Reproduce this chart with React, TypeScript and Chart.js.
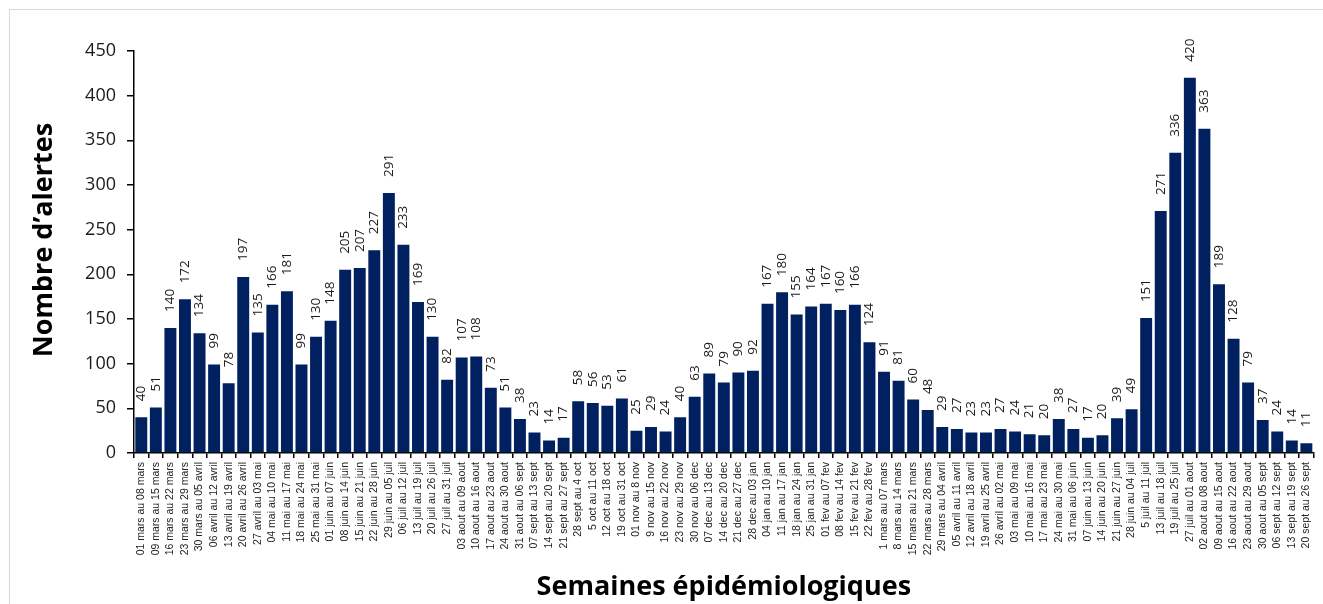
import React, { useEffect, useRef } from "react";
import { Chart, registerables } from "chart.js";

Chart.register(...registerables);

const semaines: string[] = [
  "01 mars au 08 mars", "09 mars au 15 mars", "16 mars au 22 mars", "23 mars au 29 mars",
  "30 mars au 05 avril", "06 avril au 12 avril", "13 avril au 19 avril", "20 avril au 26 avril",
  "27 avril au 03 mai", "04 mai au 10 mai", "11 mai au 17 mai", "18 mai au 24 mai",
  "25 mai au 31 mai", "01 juin au 07 juin", "08 juin au 14 juin", "15 juin au 21 juin",
  "22 juin au 28 juin", "29 juin au 05 juil", "06 juil au 12 juil", "13 juil au 19 juil",
  "20 juil au 26 juil", "27 juil au 31 juil", "03 aout au 09 aout", "10 aout au 16 aout",
  "17 aout au 23 aout", "24 aout au 30 aout", "31 aout au 06 sept", "07 sept au 13 sept",
  "14 sept au 20 sept", "21 sept au 27 sept", "28 sept au 4 oct", "5 oct au 11 oct",
  "12 oct au 18 oct", "19 oct au 31 oct", "01 nov au 8 nov", "9 nov au 15 nov",
  "16 nov au 22 nov", "23 nov au 29 nov", "30 nov au 06 dec", "07 dec au 13 dec",
  "14 dec au 20 dec", "21 dec au 27 dec", "28 dec au 03 jan", "04 jan au 10 jan",
  "11 jan au 17 jan", "18 jan au 24 jan", "25 jan au 31 jan", "01 fev au 07 fev",
  "08 fev au 14 fev", "15 fev au 21 fev", "22 fev au 28 fev", "1 mars au 07 mars",
  "8 mars au 14 mars", "15 mars au 21 mars", "22 mars au 28 mars", "29 mars au 04 avril",
  "05 avril au 11 avril", "12 avril au 18 avril", "19 avril au 25 avril", "26 avril au 02 mai",
  "03 mai au 09 mai", "10 mai au 16 mai", "17 mai au 23 mai", "24 mai au 30 mai",
  "31 mai au 06 juin", "07 juin au 13 juin", "14 juin au 20 juin", "21 juin au 27 juin",
  "28 juin au 04 juil", "5 juil au 11 juil", "13 juil au 18 juil", "19 juil au 25 juil",
  "27 juil au 01 aout", "02 aout au 08 aout", "09 aout au 15 aout", "16 aout au 22 aout",
  "23 aout au 29 aout", "30 aout au 05 sept", "06 sept au 12 sept", "13 sept au 19 sept",
  "20 sept au 26 sept",
];

const alertes: number[] = [
  40, 51, 140, 172, 134, 99, 78, 197, 135, 166, 181, 99, 130, 148, 205, 207, 227, 291, 233, 169,
  130, 82, 107, 108, 73, 51, 38, 23, 14, 17, 58, 56, 53, 61, 25, 29, 24, 40, 63, 89,
  79, 90, 92, 167, 180, 155, 164, 167, 160, 166, 124, 91, 81, 60, 48, 29, 27, 23, 23, 27,
  24, 21, 20, 38, 27, 17, 20, 39, 49, 151, 271, 336, 420, 363, 189, 128, 79, 37, 24, 14,
  11,
];

const yTitle = "Nombre d’alertes";
const xTitle = "Semaines épidémiologiques";

const frame = {
  id: "frame",
  beforeDraw(chart: any) {
    const { ctx, width, height } = chart;
    ctx.save();
    ctx.fillStyle = "#ffffff";
    ctx.fillRect(0, 0, width, height);
    ctx.strokeStyle = "#d9d9d9";
    ctx.lineWidth = 1;
    ctx.strokeRect(9.5, 9.5, width + 20, height + 20);
    ctx.restore();
  },
};

const yAxisTitle = {
  id: "yAxisTitle",
  afterDraw(chart: any) {
    const { ctx } = chart;
    ctx.save();
    ctx.font = "bold 27px 'Open Sans'";
    ctx.fillStyle = "#000";
    ctx.textAlign = "center";
    ctx.textBaseline = "middle";
    ctx.translate(44, 240);
    ctx.rotate(-Math.PI / 2);
    ctx.fillText(yTitle, 0, 0);
    ctx.restore();
  },
};

const valueLabels = {
  id: "valueLabels",
  afterDatasetsDraw(chart: any) {
    const { ctx } = chart;
    const meta = chart.getDatasetMeta(0);
    const data = chart.data.datasets[0].data;
    ctx.save();
    ctx.font = "13.5px 'Open Sans'";
    ctx.fillStyle = "#1a1a1a";
    ctx.textAlign = "left";
    ctx.textBaseline = "middle";
    meta.data.forEach((bar: any, i: number) => {
      ctx.save();
      ctx.translate(bar.x, bar.y - 16);
      ctx.rotate(-Math.PI / 2);
      ctx.fillText(String(data[i]), 0, 0);
      ctx.restore();
    });
    ctx.restore();
  },
};

export default function App() {
  const ref = useRef<HTMLCanvasElement | null>(null);

  useEffect(() => {
    if (!ref.current) return;
    const chart = new Chart(ref.current, {
      type: "bar",
      data: {
        labels: semaines,
        datasets: [
          {
            data: alertes,
            backgroundColor: "#002060",
            borderWidth: 0,
            barPercentage: 0.82,
            categoryPercentage: 1,
          },
        ],
      },
      options: {
        animation: false,
        responsive: false,
        maintainAspectRatio: false,
        layout: { padding: { top: 51, right: 6, left: 0, bottom: 0 } },
        plugins: { legend: { display: false }, tooltip: { enabled: false } },
        scales: {
          x: {
            afterFit: (s: any) => {
              s.height = 151;
            },
            grid: {
              display: true,
              drawOnChartArea: false,
              drawTicks: true,
              tickLength: 5,
              color: "#000",
              lineWidth: 1.5,
              offset: true,
            },
            border: { display: true, color: "#000", width: 1.5 },
            ticks: {
              autoSkip: false,
              minRotation: 90,
              maxRotation: 90,
              padding: 4,
              color: "#222",
              font: { family: "'Liberation Sans', Arial, sans-serif", size: 10.5 },
            },
            title: {
              display: true,
              text: xTitle,
              color: "#000",
              font: { family: "'Open Sans'", size: 27, weight: "bold" },
              padding: { top: 0, bottom: 0 },
            },
          },
          y: {
            min: 0,
            max: 450,
            afterFit: (s: any) => {
              s.width = 134;
            },
            grid: {
              display: true,
              drawOnChartArea: false,
              drawTicks: true,
              tickLength: 7,
              color: "#000",
              lineWidth: 1.5,
            },
            border: { display: true, color: "#000", width: 1.5 },
            ticks: {
              stepSize: 50,
              padding: 11,
              color: "#1a1a1a",
              font: { family: "'Open Sans'", size: 18 },
            },
          },
        },
      },
      plugins: [frame, valueLabels, yAxisTitle],
    } as any);
    return () => chart.destroy();
  }, []);

  return (
    <div style={{ position: "fixed", left: 0, top: 0, width: 1323, height: 604 }}>
      <canvas ref={ref} width={1323} height={604} style={{ width: 1323, height: 604, display: "block" }} />
    </div>
  );
}
